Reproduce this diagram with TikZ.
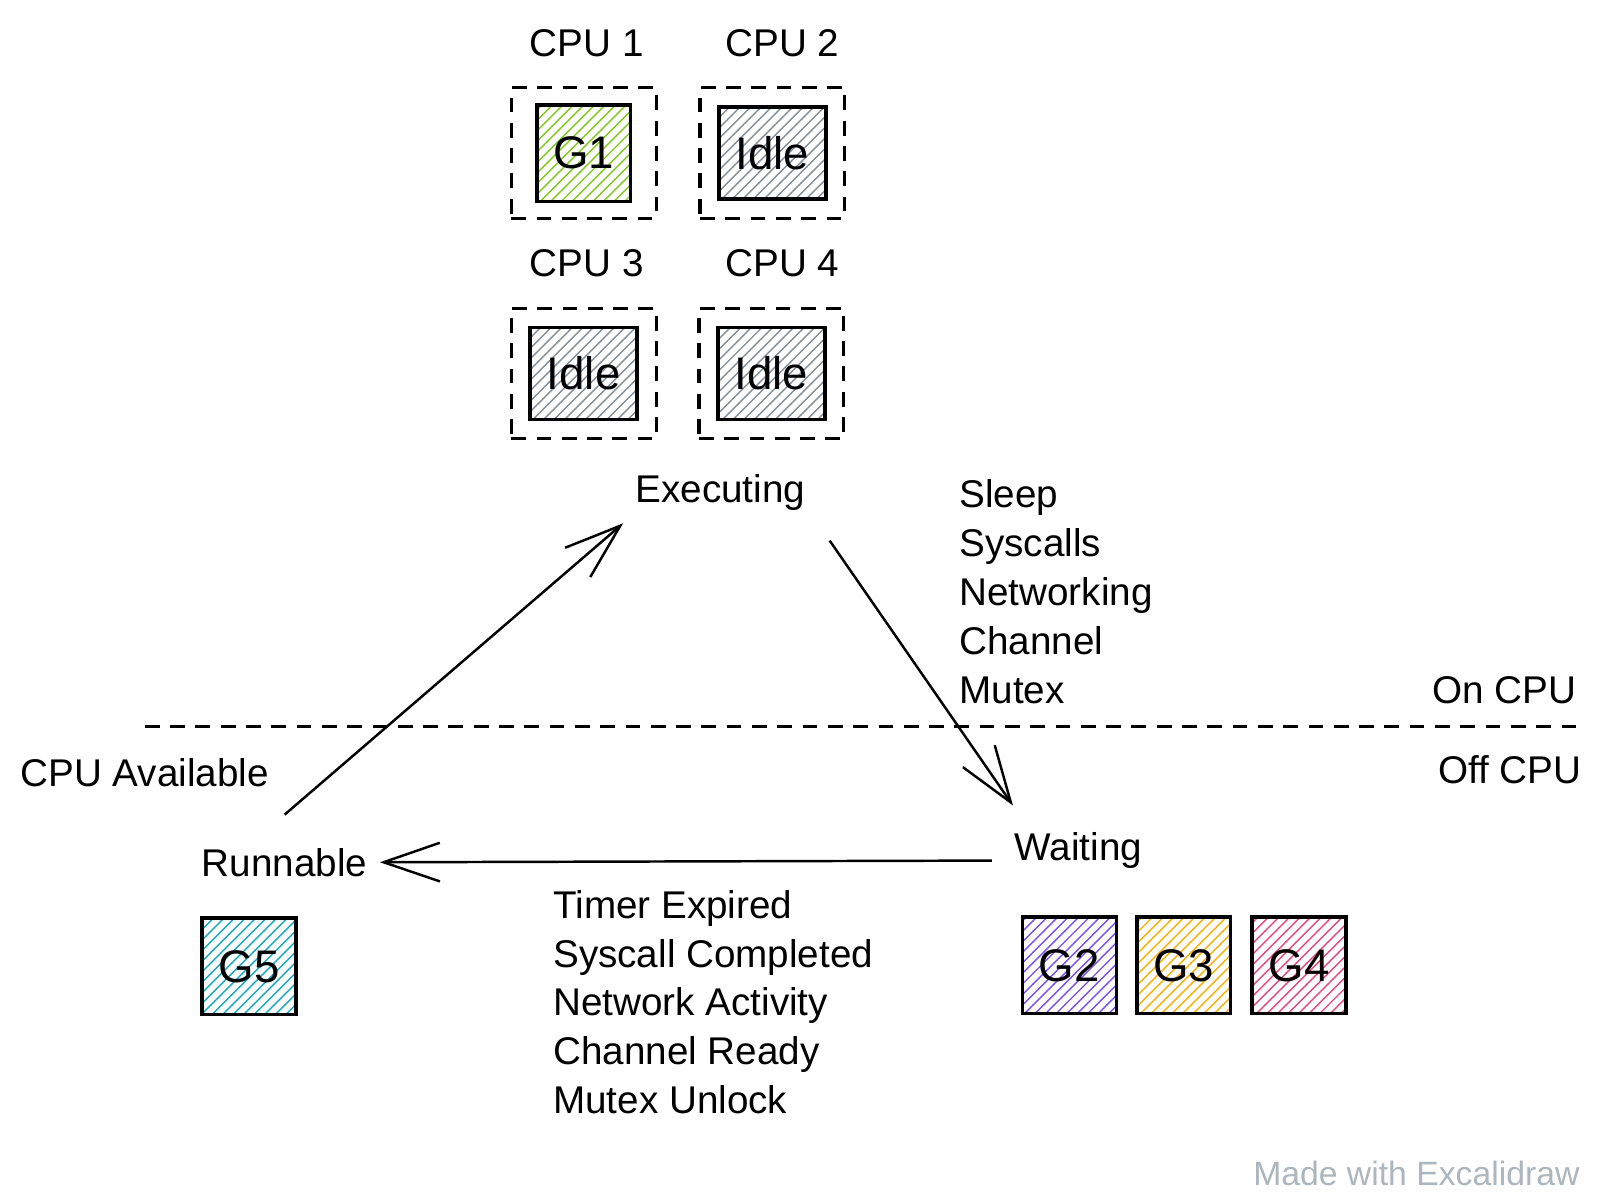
\documentclass[tikz,border=0pt]{standalone}
\usepackage{fontspec}
\setmainfont{Liberation Sans}
\usepackage{xcolor}
\usetikzlibrary{arrows.meta,patterns}
\definecolor{g-green}{HTML}{82C91E}
\definecolor{g-grey}{HTML}{868E96}
\definecolor{g-violet}{HTML}{7950F2}
\definecolor{g-yellow}{HTML}{FAB005}
\definecolor{g-pink}{HTML}{E64980}
\definecolor{g-cyan}{HTML}{15AABF}
\definecolor{mark-grey}{HTML}{ADB5BD}
\tikzset{
    cpu-frame/.style = {draw, line width=0.9pt, dash pattern=on 4.2pt off 3pt, minimum width=1.449cm, minimum height=1.306cm},
    g-box/.style = {draw, line width=1pt, pattern=north east lines, font=\fontsize{13}{15}\selectfont, minimum width=0.939cm, minimum height=0.965cm},
    idle-box/.style = {g-box, pattern color=g-grey, minimum width=1.071cm, minimum height=0.918cm},
    state-label/.style = {font=\fontsize{11}{13.9}\selectfont},
    list-label/.style = {state-label, align=left},
    flow-arrow/.style = {line width=0.7pt, -{Straight Barb[length=16pt, width=11pt, line width=0.7pt]}},
    divider/.style = {line width=0.9pt, dash pattern=on 4.2pt off 3pt},
}
\begin{document}
\begin{tikzpicture}[x=0.010204cm, y=-0.010204cm]
\useasboundingbox (0,0) rectangle (1568,1171);
\node[cpu-frame] (cpu1) at (572,150) {};
\node[cpu-frame] (cpu2) at (757,150) {};
\node[cpu-frame] (cpu3) at (572,366) {};
\node[cpu-frame] (cpu4) at (756,366) {};
\node[g-box, pattern color=g-green] (g1) at (cpu1) {G1};
\node[idle-box] (idle2) at (cpu2) {Idle};
\node[idle-box] (idle3) at (cpu3) {Idle};
\node[idle-box] (idle4) at (cpu4) {Idle};
\node[state-label, anchor=west] at (507,42) {CPU 1};
\node[state-label, anchor=west] at (699,42) {CPU 2};
\node[state-label, anchor=west] at (507,258) {CPU 3};
\node[state-label, anchor=west] at (699,258) {CPU 4};

\node[state-label] (executing) at (706,483) {Executing};
\node[state-label] (runnable) at (279,845) {Runnable};
\node[state-label] (waiting) at (1057,833) {Waiting};
\node[list-label, anchor=west] (block-reasons) at (928,580) {Sleep\\Syscalls\\Networking\\Channel\\Mutex};
\node[list-label, anchor=west] (wake-reasons) at (530,982) {Timer Expired\\Syscall Completed\\Network Activity\\Channel Ready\\Mutex Unlock};
\node[state-label, anchor=east] at (1557,676) {On CPU};
\node[state-label, anchor=east] at (1562,754) {Off CPU};
\node[state-label, anchor=west] at (8,757) {CPU Available};

\node[g-box, pattern color=g-cyan] (g5) at (244,947) {G5};
\node[g-box, pattern color=g-violet] (g2) at (1048,946) {G2};
\node[g-box, pattern color=g-yellow] (g3) at (1160,946) {G3};
\node[g-box, pattern color=g-pink] (g4) at (1273,946) {G4};

\coordinate (divider-start) at (142,712);
\coordinate (divider-end) at (1550,712);
\draw[divider] (divider-start) -- (divider-end);

\draw[flow-arrow] ([yshift=6pt]runnable.north) -- (executing.south west);
\draw[flow-arrow, shorten <=6pt] (executing.south east) -- ([xshift=3pt, yshift=4pt]waiting.north west);
\draw[flow-arrow, shorten <=3pt] ([yshift=-3pt]waiting.west) -- (runnable.east);

\node[anchor=east, text=mark-grey, font=\fontsize{9.6}{11}\selectfont] (watermark) at (1560,1150) {Made with Excalidraw};
\end{tikzpicture}
\end{document}
